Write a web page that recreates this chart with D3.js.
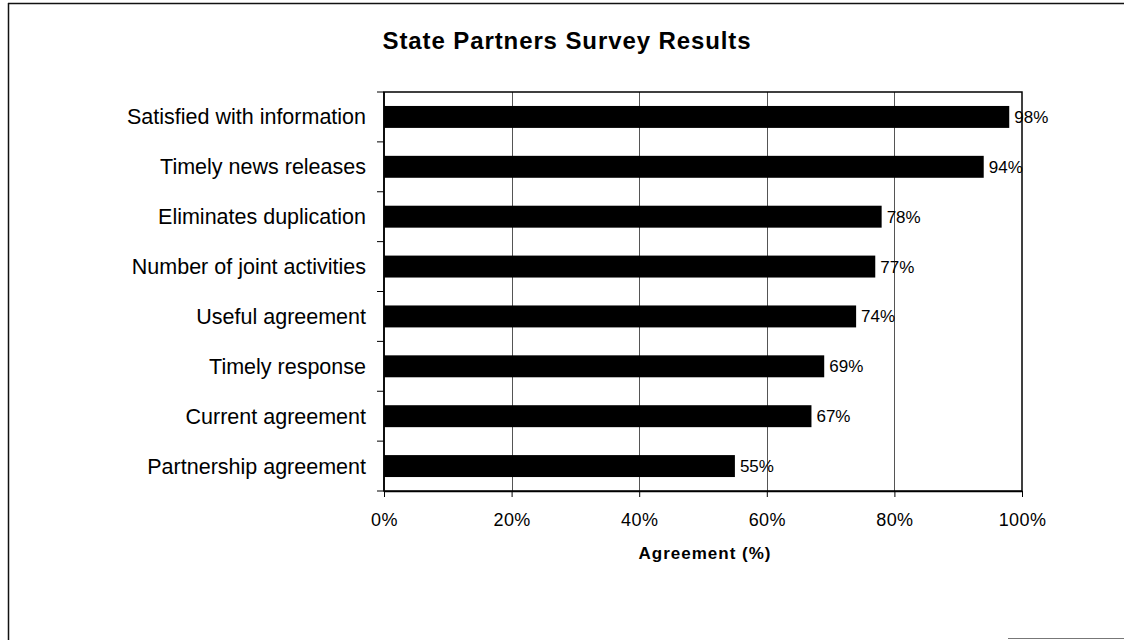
<!DOCTYPE html>
<html>
<head>
<meta charset="utf-8">
<script src="https://cdn.jsdelivr.net/npm/d3@7"></script>
<style>
  html, body { margin: 0; padding: 0; background: #fff; }
  svg { display: block; font-family: "Liberation Sans", Arial, sans-serif; }
</style>
</head>
<body>
<svg id="chart" width="1124" height="640"></svg>
<script>
const categories = [
  "Satisfied with information",
  "Timely news releases",
  "Eliminates duplication",
  "Number of joint activities",
  "Useful agreement",
  "Timely response",
  "Current agreement",
  "Partnership agreement"
];
const values = [98, 94, 78, 77, 74, 69, 67, 55];
const xTicks = [0, 20, 40, 60, 80, 100];
const titleText = "State Partners Survey Results";
const xAxisTitle = "Agreement (%)";

const svg = d3.select("#chart");
const margin = { left: 384, right: 1022, top: 92, bottom: 491 };

// outer frame (partially visible in the scan)
svg.append("line").attr("x1", 8).attr("x2", 1124).attr("y1", 3.5).attr("y2", 3.5)
  .attr("stroke", "#111").attr("stroke-width", 1.5);
svg.append("line").attr("x1", 8.5).attr("x2", 8.5).attr("y1", 3).attr("y2", 640)
  .attr("stroke", "#111").attr("stroke-width", 1.5);
svg.append("line").attr("x1", 1008).attr("x2", 1124).attr("y1", 638.5).attr("y2", 638.5)
  .attr("stroke", "#777").attr("stroke-width", 1);

const x = d3.scaleLinear().domain([0, 100]).range([margin.left, margin.right]);
const y = d3.scaleBand().domain(categories).range([margin.top, margin.bottom]).padding(0);
const barH = y.bandwidth() * 0.44;

// gridlines
svg.append("g").selectAll("line").data(xTicks.filter(d => d > 0 && d < 100)).join("line")
  .attr("x1", d => Math.round(x(d)) + 0.5).attr("x2", d => Math.round(x(d)) + 0.5)
  .attr("y1", margin.top).attr("y2", margin.bottom)
  .attr("stroke", "#555").attr("stroke-width", 1);

// bars
svg.append("g").selectAll("rect").data(values).join("rect")
  .attr("x", x(0))
  .attr("y", (d, i) => y(categories[i]) + (y.bandwidth() - barH) / 2)
  .attr("width", d => x(d) - x(0))
  .attr("height", barH)
  .attr("fill", "#000");

// plot border: top, right, bottom
svg.append("rect")
  .attr("x", margin.left).attr("y", margin.top)
  .attr("width", margin.right - margin.left).attr("height", margin.bottom - margin.top)
  .attr("fill", "none").attr("stroke", "#000").attr("stroke-width", 1.5);

// x axis
const xAxis = d3.axisBottom(x).tickValues(xTicks).tickFormat(d => d + "%").tickSize(6).tickSizeOuter(0);
const gx = svg.append("g").attr("transform", `translate(0,${margin.bottom})`).call(xAxis);
gx.select(".domain").attr("stroke", "#000").attr("stroke-width", 1.5);
gx.selectAll(".tick line").attr("stroke", "#000");
gx.selectAll("text").attr("font-size", 18).attr("fill", "#000").attr("dy", null).attr("y", 35)
  .attr("font-family", "'Liberation Sans', Arial, sans-serif").attr("letter-spacing", 0.4);

// y axis with ticks between categories
const gy = svg.append("g");
gy.append("line").attr("x1", margin.left).attr("x2", margin.left)
  .attr("y1", margin.top).attr("y2", margin.bottom).attr("stroke", "#000").attr("stroke-width", 1.5);
const boundaries = categories.map(c => y(c)).concat([margin.bottom]);
gy.selectAll("line.tk").data(boundaries).join("line").attr("class", "tk")
  .attr("x1", margin.left - 7).attr("x2", margin.left)
  .attr("y1", d => d).attr("y2", d => d).attr("stroke", "#000").attr("stroke-width", 1);
gy.selectAll("text").data(categories).join("text")
  .attr("x", 366).attr("y", d => y(d) + y.bandwidth() / 2)
  .attr("dy", "0.35em").attr("text-anchor", "end")
  .attr("font-size", 21.5).attr("fill", "#000").text(d => d);

// value labels
svg.append("g").selectAll("text").data(values).join("text")
  .attr("x", d => x(d) + 5)
  .attr("y", (d, i) => y(categories[i]) + y.bandwidth() / 2)
  .attr("dy", "0.35em")
  .attr("font-size", 17).attr("fill", "#000")
  .text(d => d + "%");

// title
svg.append("text").attr("x", 567).attr("y", 49).attr("text-anchor", "middle")
  .attr("font-size", 24).attr("font-weight", "bold").attr("letter-spacing", 0.9)
  .text(titleText);

// axis title
svg.append("text").attr("x", 705).attr("y", 559).attr("text-anchor", "middle")
  .attr("font-size", 17).attr("font-weight", "bold").attr("letter-spacing", 1)
  .text(xAxisTitle);
</script>
</body>
</html>
